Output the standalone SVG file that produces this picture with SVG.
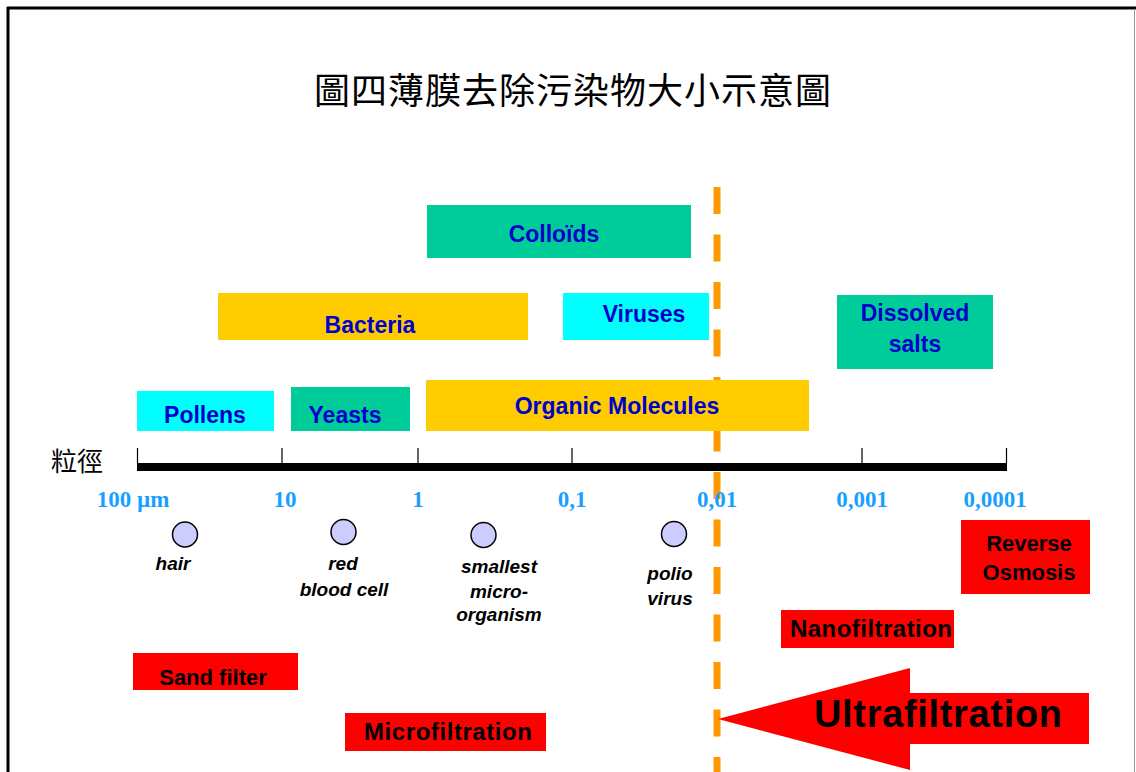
<svg xmlns="http://www.w3.org/2000/svg" width="1136" height="772" viewBox="0 0 1136 772">
<style>
.cjk{font-family:"Noto Sans CJK TC","Noto Sans CJK SC",sans-serif;fill:#000}
.lbl{font-family:"Liberation Sans",Arial,sans-serif;font-weight:bold;font-size:23px;fill:#0000CC;text-anchor:middle}
.red{font-family:"Liberation Sans",Arial,sans-serif;font-weight:bold;font-size:22px;fill:#000;text-anchor:middle}
.mid{font-size:24px}
.big{font-size:38px}
.tick{font-family:"Liberation Serif","Times New Roman",serif;font-weight:bold;font-size:23px;fill:#1A9FFF;text-anchor:middle}
.obj{font-family:"Liberation Sans",Arial,sans-serif;font-weight:bold;font-style:italic;font-size:19px;fill:#000;text-anchor:middle}
.teal{fill:#00CC99}.yel{fill:#FFCC00}.cyan{fill:#00FFFF}.rb{fill:#FF0000}
.dot{fill:#CCCCFF;stroke:#000;stroke-width:1.5}
</style>
<rect width="1136" height="772" fill="#fff"/>
<g id="frame">
<line x1="7" y1="8" x2="1136" y2="8" stroke="#000" stroke-width="3"/>
<line x1="8" y1="7" x2="8" y2="772" stroke="#000" stroke-width="3"/>
<line x1="1134.5" y1="9" x2="1134.5" y2="772" stroke="#999" stroke-width="1"/>
</g>
<g id="title"><text class="cjk" x="573" y="104" font-size="36" letter-spacing="1" text-anchor="middle">圖四薄膜去除污染物大小示意圖</text></g>
<g id="connectors">
<line x1="717" y1="187" x2="717" y2="772" stroke="#FF9900" stroke-width="7" stroke-dasharray="27 20.5"/>
</g>
<g id="colloids"><rect class="teal" x="427" y="205" width="264" height="53"/><text class="lbl" x="554" y="242">Colloïds</text></g>
<g id="bacteria"><rect class="yel" x="218" y="293" width="310" height="47"/><text class="lbl" x="370" y="333">Bacteria</text></g>
<g id="viruses"><rect class="cyan" x="563" y="293" width="146" height="47"/><text class="lbl" x="644" y="322">Viruses</text></g>
<g id="dissolved-salts"><rect class="teal" x="837" y="295" width="156" height="74"/><text class="lbl" x="915" y="321">Dissolved</text><text class="lbl" x="915" y="352">salts</text></g>
<g id="pollens"><rect class="cyan" x="137" y="391" width="137" height="40"/><text class="lbl" x="205" y="423">Pollens</text></g>
<g id="yeasts"><rect class="teal" x="291" y="387" width="119" height="44"/><text class="lbl" x="345" y="423">Yeasts</text></g>
<g id="organic-molecules"><rect class="yel" x="426" y="380" width="383" height="51"/><text class="lbl" x="617" y="414">Organic Molecules</text></g>
<g id="axis">
<text class="cjk" x="77" y="471" font-size="26" text-anchor="middle">粒徑</text>
<rect x="137" y="463" width="870" height="8" fill="#000"/>
<g stroke="#000" stroke-width="1.2">
<line x1="137.5" y1="448" x2="137.5" y2="464"/>
<line x1="282" y1="448" x2="282" y2="464"/>
<line x1="418" y1="448" x2="418" y2="464"/>
<line x1="572" y1="448" x2="572" y2="464"/>
<line x1="862" y1="448" x2="862" y2="464"/>
<line x1="1006.5" y1="448" x2="1006.5" y2="464"/>
</g>
<text class="tick" x="133" y="507">100 µm</text>
<text class="tick" x="285" y="507">10</text>
<text class="tick" x="418" y="507">1</text>
<text class="tick" x="572" y="507">0,1</text>
<text class="tick" x="717" y="507">0,01</text>
<text class="tick" x="862" y="507">0,001</text>
<text class="tick" x="995" y="507">0,0001</text>
</g>
<g id="hair"><circle class="dot" cx="185" cy="534.5" r="12.5"/><text class="obj" x="173" y="570">hair</text></g>
<g id="red-blood-cell"><circle class="dot" cx="343.5" cy="532" r="12.5"/><text class="obj" x="343" y="570">red</text><text class="obj" x="344" y="596">blood cell</text></g>
<g id="smallest-microorganism"><circle class="dot" cx="483.5" cy="535" r="12.5"/><text class="obj" x="499" y="573">smallest</text><text class="obj" x="499" y="598">micro-</text><text class="obj" x="499" y="621">organism</text></g>
<g id="polio-virus"><circle class="dot" cx="674" cy="534" r="12.5"/><text class="obj" x="670" y="580">polio</text><text class="obj" x="670" y="605">virus</text></g>
<g id="reverse-osmosis"><rect class="rb" x="961" y="520" width="129" height="74"/><text class="red" x="1029" y="551">Reverse</text><text class="red" x="1029" y="580">Osmosis</text></g>
<g id="nanofiltration"><rect class="rb" x="781" y="610" width="173" height="38"/><text class="red mid" x="871" y="637" textLength="162" lengthAdjust="spacing">Nanofiltration</text></g>
<g id="sand-filter"><rect class="rb" x="133" y="653" width="165" height="37"/><text class="red" x="213" y="685">Sand filter</text></g>
<g id="microfiltration"><rect class="rb" x="345" y="713" width="201" height="38"/><text class="red mid" x="448" y="740" textLength="168" lengthAdjust="spacing">Microfiltration</text></g>
<g id="ultrafiltration">
<polygon class="rb" points="718,719 910,668 910,693 1089,693 1089,744 910,744 910,770"/>
<text class="red big" x="938" y="727" textLength="248" lengthAdjust="spacing">Ultrafiltration</text>
</g>
</svg>
